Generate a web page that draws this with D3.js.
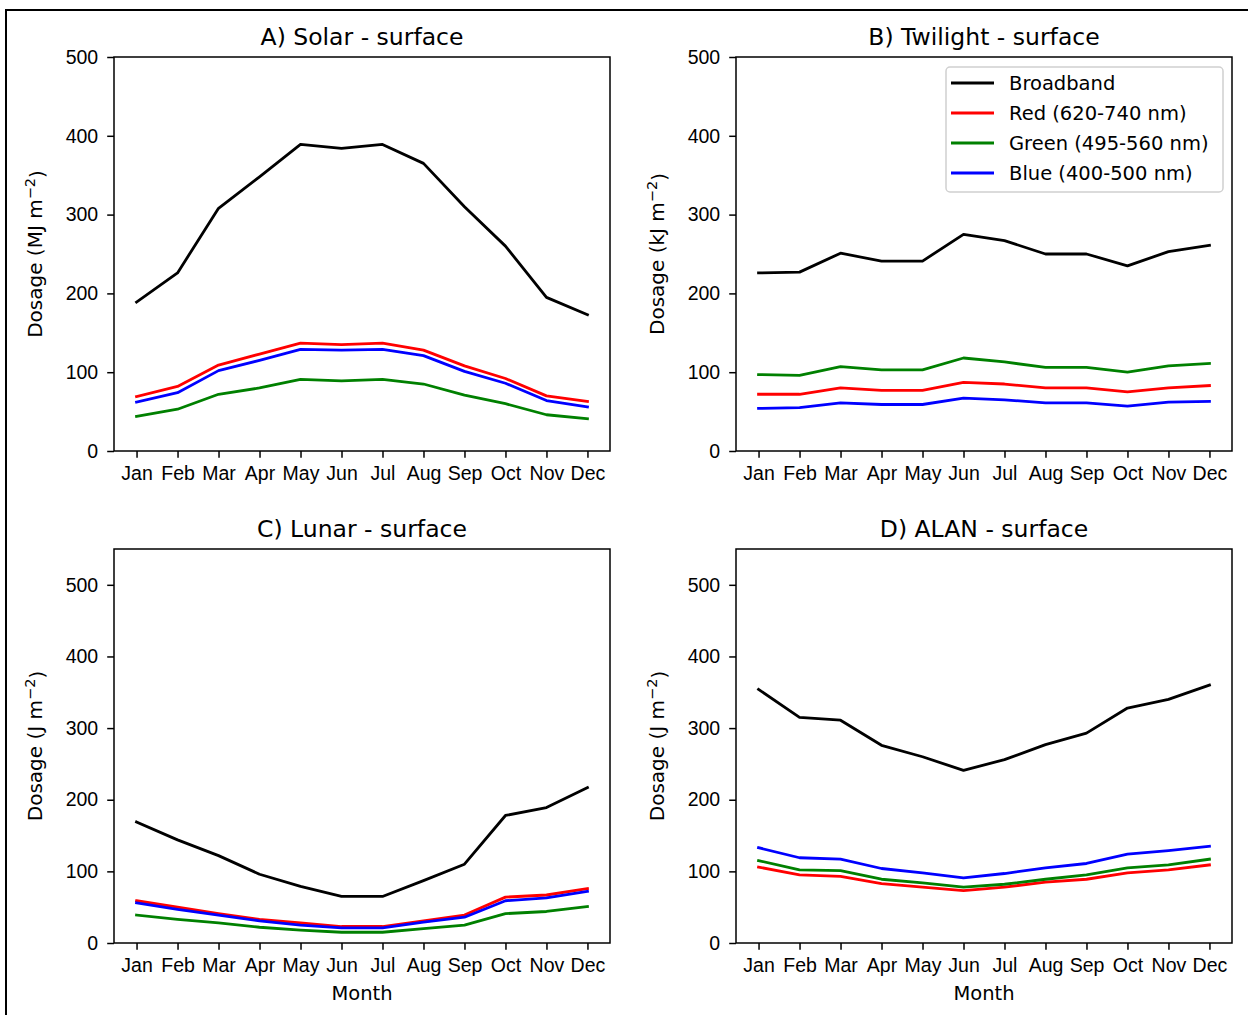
<!DOCTYPE html>
<html lang="en">
<head>
<meta charset="utf-8">
<title>Dosage by month</title>
<style>
  body { margin: 0; background: #fff; }
  svg { display: block; font-family: "DejaVu Sans", sans-serif; }
  .tick text { font-size: 19.5px; fill: #000; }
  .domain { display: none; }
</style>
</head>
<body>
<svg id="chart" width="1248" height="1015"></svg>
<script src="https://d3js.org/d3.v7.min.js"></script>
<script>
var months = ["Jan", "Feb", "Mar", "Apr", "May", "Jun", "Jul", "Aug", "Sep", "Oct", "Nov", "Dec"];
var seriesNames = ["Broadband", "Red (620-740 nm)", "Green (495-560 nm)", "Blue (400-500 nm)"];
var seriesColors = ["#000000", "#ff0000", "#008000", "#0000ff"];

// A) Solar, MJ m-2
var solarBroad = [189, 226, 308, 348, 389, 384, 389, 365, 310, 260, 195, 173];
var solarRed   = [69, 82, 109, 123, 137, 135, 137, 128, 108, 92, 70, 63];
var solarGreen = [44, 53, 72, 80, 91, 89, 91, 85, 71, 60, 46, 41];
var solarBlue  = [62, 74, 102, 115, 129, 128, 129, 121, 101, 86, 64, 56];

// B) Twilight, kJ m-2
var twiBroad = [226, 227, 251, 241, 241, 275, 267, 250, 250, 235, 253, 261];
var twiRed   = [72, 72, 80, 77, 77, 87, 85, 80, 80, 75, 80, 83];
var twiGreen = [97, 96, 107, 103, 103, 118, 113, 106, 106, 100, 108, 111];
var twiBlue  = [54, 55, 61, 59, 59, 67, 65, 61, 61, 57, 62, 63];

// C) Lunar, J m-2
var lunBroad = [169, 144, 122, 96, 79, 65, 65, 87, 110, 178, 189, 217];
var lunRed   = [59, 50, 41, 33, 28, 23, 23, 31, 39, 64, 67, 76];
var lunGreen = [39, 33, 28, 22, 18, 15, 15, 20, 25, 41, 44, 51];
var lunBlue  = [56, 47, 39, 31, 25, 21, 21, 29, 36, 59, 63, 72];

// D) ALAN, J m-2
var alanBroad = [354, 315, 311, 276, 260, 241, 256, 277, 293, 328, 340, 360];
var alanRed   = [106, 95, 93, 83, 78, 73, 78, 85, 89, 98, 102, 109];
var alanGreen = [115, 102, 101, 89, 84, 78, 82, 89, 95, 105, 109, 117];
var alanBlue  = [133, 119, 117, 104, 98, 91, 97, 105, 111, 124, 129, 135];

var yTicks = [0, 100, 200, 300, 400, 500];

var svg = d3.select("#chart");

// outer frame (cut off at right and bottom)
svg.append("rect")
  .attr("x", 6).attr("y", 10)
  .attr("width", 1260).attr("height", 1030)
  .attr("fill", "none").attr("stroke", "#000").attr("stroke-width", 2);

var panels = [
  { title: "A) Solar - surface", unit: "MJ", left: 114, top: 57, ymax: 500,
    data: [solarBroad, solarRed, solarGreen, solarBlue], xlabel: false, legend: false },
  { title: "B) Twilight - surface", unit: "kJ", left: 736, top: 57, ymax: 500,
    data: [twiBroad, twiRed, twiGreen, twiBlue], xlabel: false, legend: true },
  { title: "C) Lunar - surface", unit: "J", left: 114, top: 549, ymax: 550,
    data: [lunBroad, lunRed, lunGreen, lunBlue], xlabel: true, legend: false },
  { title: "D) ALAN - surface", unit: "J", left: 736, top: 549, ymax: 550,
    data: [alanBroad, alanRed, alanGreen, alanBlue], xlabel: true, legend: false }
];

var w = 496, h = 394;
var tickLen = 6.8;

panels.forEach(function(p) {
  var g = svg.append("g").attr("transform", "translate(" + p.left + "," + p.top + ")");

  var x = d3.scalePoint().domain(months).range([0, w]).padding(0.55);
  var y = d3.scaleLinear().domain([0, p.ymax]).range([h, 0]);

  // lines
  var line = d3.line()
    .x(function(d, i) { return x(months[i]); })
    .y(function(d) { return y(d); });

  p.data.forEach(function(vals, k) {
    g.append("path")
      .datum(vals)
      .attr("d", line)
      .attr("fill", "none")
      .attr("stroke", seriesColors[k])
      .attr("stroke-width", 2.8)
      .attr("stroke-linejoin", "round")
      .attr("stroke-linecap", "square");
  });

  // axes
  var xAxis = g.append("g").attr("transform", "translate(0," + h + ")")
    .call(d3.axisBottom(x).tickSize(tickLen).tickPadding(8.5));
  var yAxis = g.append("g")
    .call(d3.axisLeft(y).tickValues(yTicks).tickSize(tickLen).tickPadding(9));
  [xAxis, yAxis].forEach(function(a) {
    a.selectAll(".tick line").attr("stroke", "#000").attr("stroke-width", 1.5);
  });

  // spines
  g.append("rect")
    .attr("width", w).attr("height", h)
    .attr("fill", "none").attr("stroke", "#000").attr("stroke-width", 1.5);

  // title
  g.append("text")
    .attr("x", w / 2).attr("y", -12.5)
    .attr("text-anchor", "middle")
    .attr("font-size", 23.5)
    .text(p.title);

  // y label
  var yl = g.append("text")
    .attr("transform", "translate(-79," + (h / 2) + ") rotate(-90)")
    .attr("text-anchor", "middle")
    .attr("dy", "0.35em")
    .attr("font-size", 20);
  yl.append("tspan").text("Dosage (" + p.unit + " m");
  yl.append("tspan").attr("dy", "-0.45em").attr("font-size", 14.5).text("\u22122");
  yl.append("tspan").attr("dy", "0.45em").text(")");

  if (p.xlabel) {
    g.append("text")
      .attr("x", w / 2).attr("y", h + 57)
      .attr("text-anchor", "middle")
      .attr("font-size", 19.5)
      .text("Month");
  }

  if (p.legend) {
    var lg = g.append("g").attr("transform", "translate(" + (w - 286) + ",10)");
    lg.append("rect")
      .attr("width", 277).attr("height", 125)
      .attr("rx", 4)
      .attr("fill", "#fff").attr("fill-opacity", 0.8)
      .attr("stroke", "#d0d0d0").attr("stroke-width", 1.5);
    seriesNames.forEach(function(name, k) {
      var yy = 16 + k * 30;
      lg.append("line")
        .attr("x1", 5).attr("x2", 48)
        .attr("y1", yy).attr("y2", yy)
        .attr("stroke", seriesColors[k]).attr("stroke-width", 2.8);
      lg.append("text")
        .attr("x", 63).attr("y", yy)
        .attr("dy", "0.35em")
        .attr("font-size", 19.5)
        .text(name);
    });
  }
});
</script>
</body>
</html>
